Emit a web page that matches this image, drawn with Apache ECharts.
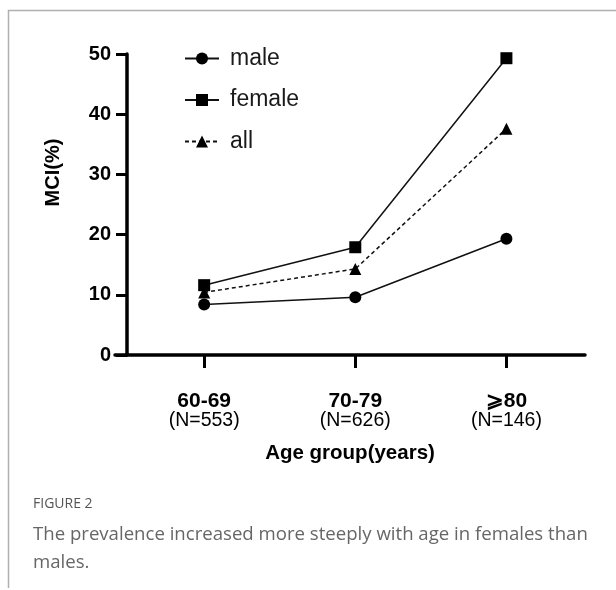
<!DOCTYPE html>
<html>
<head>
<meta charset="utf-8">
<script src="https://cdn.jsdelivr.net/npm/echarts@6/dist/echarts.min.js"></script>
<style>html,body{margin:0;padding:0;background:#fff}#c{width:616px;height:590px}</style>
</head>
<body>
<div id="c"></div>
<script>
const categories = ['60-69', '70-79', '\u2A7E80'];
const groupSizes = ['(N=553)', '(N=626)', '(N=146)'];
const maleValues = [8.4, 9.6, 19.3];
const femaleValues = [11.6, 17.9, 49.3];
const allValues = [10.4, 14.3, 37.6];
const yTicks = [0, 10, 20, 30, 40, 50];

const chart = echarts.init(document.getElementById('c'), null, {renderer: 'canvas'});
const toPairs = arr => arr.map((v, i) => [i, v]);
const lineBase = {type: 'line', color: '#000', lineStyle: {color: '#111', width: 1.5}, itemStyle: {color: '#000'}, z: 3};
const FF = 'Liberation Sans, Arial, sans-serif';

chart.setOption({
  animation: false,
  backgroundColor: '#fff',
  grid: {left: 115, right: 31, top: 54, bottom: 235},
  legend: {
    orient: 'vertical', left: 179, top: 42, itemWidth: 34, itemHeight: 15, itemGap: 18.5,
    textStyle: {fontFamily: FF, fontSize: 23, color: '#1a1a1a', padding: [0, 0, 0, 6]},
    data: ['male', 'female', 'all']
  },
  xAxis: {
    type: 'value', min: -0.59, max: 2.52,
    splitLine: {show: false},
    axisLine: {show: true, onZero: false, lineStyle: {color: '#000', width: 3.5}},
    axisTick: {show: true, customValues: [0, 1, 2], length: 13, lineStyle: {color: '#000', width: 3}},
    axisLabel: {
      customValues: [0, 1, 2], margin: 36, interval: 0,
      formatter: v => '{a|' + categories[Math.round(v)] + '}\n{b|' + groupSizes[Math.round(v)] + '}',
      rich: {
        a: {fontFamily: FF, fontWeight: 'bold', fontSize: 21, color: '#000', lineHeight: 20},
        b: {fontFamily: FF, fontSize: 19.5, color: '#000', lineHeight: 20}
      }
    },
    name: 'Age group(years)', nameLocation: 'middle', nameGap: 88,
    nameTextStyle: {fontFamily: FF, fontWeight: 'bold', fontSize: 20.5, color: '#000'}
  },
  yAxis: {
    type: 'value', min: yTicks[0], max: yTicks[yTicks.length - 1], interval: 10,
    offset: -12,
    splitLine: {show: false},
    axisLine: {show: true, onZero: false, lineStyle: {color: '#000', width: 3.5}},
    axisTick: {show: true, length: 11, lineStyle: {color: '#000', width: 3}},
    axisLabel: {margin: 16, fontFamily: FF, fontWeight: 'bold', fontSize: 20, color: '#000'},
    name: 'MCI(%)', nameLocation: 'middle', nameGap: 64, nameRotate: 90,
    nameTextStyle: {fontFamily: FF, fontWeight: 'bold', fontSize: 20, color: '#000', padding: [0, 0, 0, 64]}
  },
  series: [
    Object.assign({}, lineBase, {name: 'male', data: toPairs(maleValues), symbol: 'circle', symbolSize: 12}),
    Object.assign({}, lineBase, {name: 'female', data: toPairs(femaleValues), symbol: 'rect', symbolSize: 12}),
    Object.assign({}, lineBase, {name: 'all', data: toPairs(allValues), symbol: 'triangle', symbolSize: 12,
      lineStyle: {color: '#111', width: 1.5, type: [4, 3]}})
  ],
  graphic: [
    {type: 'line', shape: {x1: 8, y1: 10.5, x2: 616, y2: 10.5}, style: {stroke: '#b0b0b0', lineWidth: 1.5}, silent: true},
    {type: 'line', shape: {x1: 8.5, y1: 10, x2: 8.5, y2: 588}, style: {stroke: '#b0b0b0', lineWidth: 1.5}, silent: true},
    {type: 'text', left: 33, top: 497, style: {text: 'FIGURE 2', fill: '#555', font: '500 14px "Open Sans", sans-serif'}},
    {type: 'text', left: 33, top: 521, style: {text: 'The prevalence increased more steeply with age in females than\nmales.', fill: '#666', font: '18.6px "Open Sans", sans-serif', lineHeight: 28}}
  ]
});
</script>
</body>
</html>
